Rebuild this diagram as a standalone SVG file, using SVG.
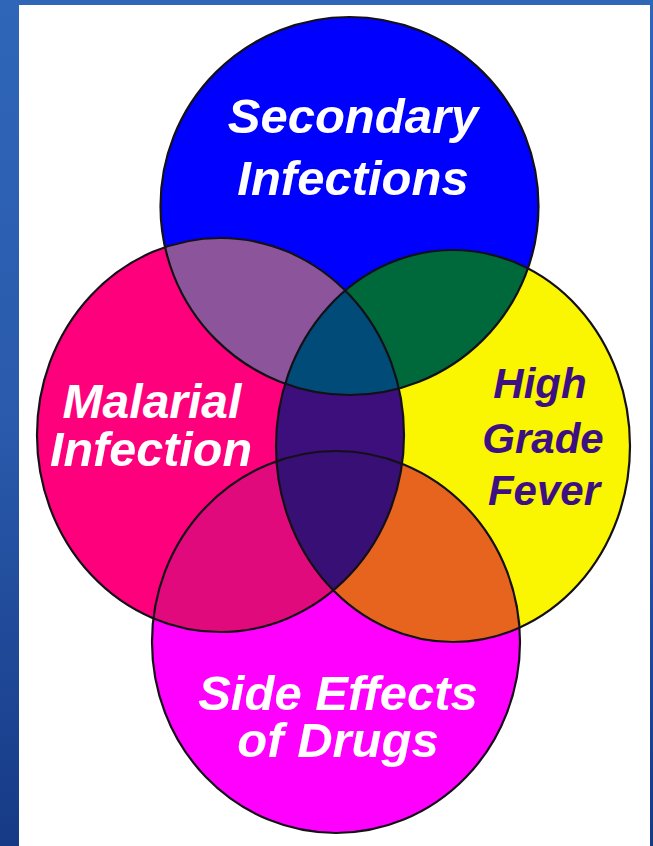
<svg xmlns="http://www.w3.org/2000/svg" width="653" height="846" viewBox="0 0 653 846">
<defs>
<linearGradient id="bg" x1="0" y1="0" x2="0" y2="1">
<stop offset="0" stop-color="#2f66b8"/>
<stop offset="0.5" stop-color="#2a5aac"/>
<stop offset="1" stop-color="#163a86"/>
</linearGradient>
<clipPath id="cB"><ellipse cx="349.5" cy="206" rx="189" ry="189"/></clipPath>
<clipPath id="cP"><ellipse cx="220.5" cy="435" rx="183.5" ry="197"/></clipPath>
<clipPath id="cY"><ellipse cx="453" cy="446" rx="177" ry="196"/></clipPath>
<clipPath id="cM"><ellipse cx="336" cy="642" rx="184" ry="191"/></clipPath>
</defs>
<style>
.edge{fill:none;stroke:#141018;stroke-width:2.2}
.lbl{font-family:"Liberation Sans",Arial,sans-serif;font-weight:bold;font-style:italic;text-anchor:middle}
.w{fill:#ffffff}
.d{fill:#3c1082}
</style>
<rect x="0" y="0" width="653" height="846" fill="url(#bg)"/>
<rect x="19" y="5" width="631" height="841" fill="#ffffff"/>

<g id="secondary-infections">
<ellipse cx="349.5" cy="206" rx="189" ry="189" fill="#0000ff"/>
</g>
<g id="malarial-infection">
<ellipse cx="220.5" cy="435" rx="183.5" ry="197" fill="#ff007d"/>
</g>
<g id="high-grade-fever">
<ellipse cx="453" cy="446" rx="177" ry="196" fill="#faf500"/>
</g>
<g id="side-effects">
<ellipse cx="336" cy="642" rx="184" ry="191" fill="#ff00ff"/>
</g>

<g id="overlaps">
<g clip-path="url(#cB)"><g clip-path="url(#cP)"><rect x="0" y="0" width="653" height="846" fill="#8c559b"/></g></g>
<g clip-path="url(#cB)"><g clip-path="url(#cY)"><rect x="0" y="0" width="653" height="846" fill="#00693c"/></g></g>
<g clip-path="url(#cP)"><g clip-path="url(#cY)"><rect x="0" y="0" width="653" height="846" fill="#3c0f7d"/></g></g>
<g clip-path="url(#cP)"><g clip-path="url(#cM)"><rect x="0" y="0" width="653" height="846" fill="#e10a7d"/></g></g>
<g clip-path="url(#cY)"><g clip-path="url(#cM)"><rect x="0" y="0" width="653" height="846" fill="#e6641e"/></g></g>
<g clip-path="url(#cB)"><g clip-path="url(#cP)"><g clip-path="url(#cY)"><rect x="0" y="0" width="653" height="846" fill="#004b78"/></g></g></g>
<g clip-path="url(#cP)"><g clip-path="url(#cY)"><g clip-path="url(#cM)"><rect x="0" y="0" width="653" height="846" fill="#380f75"/></g></g></g>
</g>

<g id="outlines">
<ellipse class="edge" cx="349.5" cy="206" rx="189" ry="189"/>
<ellipse class="edge" cx="220.5" cy="435" rx="183.5" ry="197"/>
<ellipse class="edge" cx="453" cy="446" rx="177" ry="196"/>
<ellipse class="edge" cx="336" cy="642" rx="184" ry="191"/>
</g>

<g id="labels">
<text class="lbl w" x="353" y="133" font-size="49">Secondary</text>
<text class="lbl w" x="353" y="195" font-size="49">Infections</text>
<text class="lbl w" x="152" y="418" font-size="48">Malarial</text>
<text class="lbl w" x="151" y="466" font-size="48.5">Infection</text>
<text class="lbl d" x="540" y="398" font-size="42">High</text>
<text class="lbl d" x="543" y="453" font-size="42">Grade</text>
<text class="lbl d" x="544" y="505" font-size="42">Fever</text>
<text class="lbl w" x="338" y="710" font-size="49">Side Effects</text>
<text class="lbl w" x="338" y="757" font-size="49">of Drugs</text>
</g>
</svg>
